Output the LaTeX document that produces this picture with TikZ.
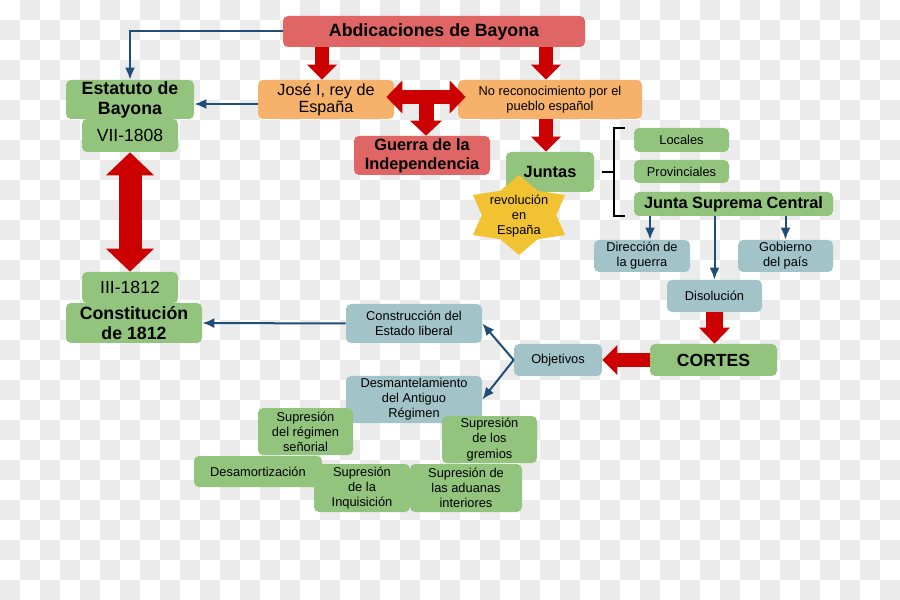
\documentclass[tikz,border=0pt]{standalone}
\usepackage{fontspec}
\setmainfont{Liberation Sans}
\usepackage{tikz}
\usetikzlibrary{arrows.meta, calc}

\definecolor{boxred}{HTML}{E06666}
\definecolor{boxorange}{HTML}{F6B26B}
\definecolor{boxgreen}{HTML}{93C47D}
\definecolor{boxblue}{HTML}{A2C4C9}
\definecolor{staryellow}{HTML}{F1C232}
\definecolor{arrowred}{HTML}{CC0000}
\definecolor{edgeblue}{HTML}{1F4E79}
\definecolor{chkgray}{RGB}{235,235,235}

\begin{document}
\begin{tikzpicture}[x=0.2mm, y=-0.2mm]
        \tikzset{box/.style = {shape=rectangle, rounded corners=1mm, inner sep=0pt, align=center, text=black}}
        \tikzset{sz/.style 2 args = {minimum width=#1*0.2mm, minimum height=#2*0.2mm}}
        \tikzset{bigtxt/.style = {font=\fontsize{9.3}{11}\selectfont\bfseries}}
        \tikzset{hugetxt/.style = {font=\fontsize{10.1}{11.4}\selectfont\bfseries}}
        \tikzset{midtxt/.style = {font=\fontsize{9.2}{9.8}\selectfont}}
        \tikzset{smalltxt/.style = {font=\fontsize{7.3}{8.6}\selectfont}}
        \tikzset{edge/.style = {draw=edgeblue, line width=0.4mm, -{Latex[length=2.4mm, width=2mm]}}}
        \tikzset{fat/.style = {draw=arrowred, line width=2.8mm, >={Triangle[width=6mm, length=3mm, line width=0pt]}}}
        \tikzset{brace/.style = {draw=black, line width=0.45mm}}
        \useasboundingbox (0,0) rectangle (900,600);

        % checkerboard background
        \fill[white] (0,0) rectangle (900,600);
        \foreach \i in {1,3,...,43}
          \foreach \j in {0,2,...,28}
            \fill[chkgray] (\i*20,\j*20) rectangle ++(20,20);
        \foreach \i in {0,2,...,44}
          \foreach \j in {1,3,...,29}
            \fill[chkgray] (\i*20,\j*20) rectangle ++(20,20);

        \node[box, fill=boxred, sz={302}{31}, hugetxt] (1) at (434,31.5) {Abdicaciones de Bayona};
        \node[box, fill=boxorange, sz={136}{39}, midtxt] (2) at (326,99.5) {José I, rey de\\España};
        \node[box, fill=boxorange, sz={184}{39}, smalltxt] (3) at (550,99.5) {No reconocimiento por el\\pueblo español};
        \node[box, fill=boxred, sz={136}{39}, bigtxt] (4) at (422,155.5) {Guerra de la\\Independencia};
        \node[box, fill=boxgreen, sz={128}{39}, hugetxt] (5) at (130,99.5) {Estatuto de\\Bayona};
        \node[box, fill=boxgreen, sz={96}{33}, midtxt, font=\fontsize{10}{11}\selectfont] (6) at (130,135.5) {VII-1808};
        \node[box, fill=boxgreen, sz={96}{31}, midtxt, font=\fontsize{10}{11}\selectfont] (7) at (130,287.5) {III-1812};
        \node[box, fill=boxgreen, sz={136}{40}, hugetxt] (8) at (134,323) {Constitución\\de 1812};
        \node[box, fill=boxgreen, sz={88}{40}, bigtxt] (9) at (550,172) {Juntas};

        % star
        \begin{scope}[shift={(519,215)}, xscale=1.33]
          \fill[staryellow] (90:40) -- (60:28) -- (30:40) -- (0:28) -- (-30:40) -- (-60:28)
            -- (-90:40) -- (-120:28) -- (-150:40) -- (180:28) -- (150:40) -- (120:28) -- cycle;
        \end{scope}
        \node[smalltxt, align=center, inner sep=0pt] (10) at (519,216) {revolución\\en\\España};

        \node[box, fill=boxgreen, sz={95}{24}, smalltxt] (11) at (681.5,140) {Locales};
        \node[box, fill=boxgreen, sz={95}{23}, smalltxt] (12) at (681.5,171.5) {Provinciales};
        \node[box, fill=boxgreen, sz={199}{24}, bigtxt] (13) at (733.5,204) {Junta Suprema Central};
        \node[box, fill=boxblue, sz={96}{32}, smalltxt] (14) at (642,256) {Dirección de\\la guerra};
        \node[box, fill=boxblue, sz={95}{32}, smalltxt] (15) at (785.5,256) {Gobierno\\del país};
        \node[box, fill=boxblue, sz={95}{32}, smalltxt] (16) at (714.5,296) {Disolución};
        \node[box, fill=boxgreen, sz={127}{32}, font=\fontsize{10}{12}\selectfont\bfseries] (17) at (713.5,360) {CORTES};
        \node[box, fill=boxblue, sz={88}{32}, smalltxt] (18) at (558,360) {Objetivos};
        \node[box, fill=boxblue, sz={136}{39}, smalltxt] (19) at (414,323.5) {Construcción del\\Estado liberal};
        \node[box, fill=boxblue, sz={136}{47}, smalltxt] (20) at (414,399.5) {Desmantelamiento\\del Antiguo\\Régimen};
        \node[box, fill=boxgreen, sz={95}{47}, smalltxt] (21) at (305.5,431.5) {Supresión\\del régimen\\señorial};
        \node[box, fill=boxgreen, sz={95}{47}, smalltxt] (22) at (489.5,439.5) {Supresión\\de los\\gremios};
        \node[box, fill=boxgreen, sz={128}{31}, smalltxt] (23) at (258,471.5) {Desamortización};
        \node[box, fill=boxgreen, sz={96}{48}, smalltxt] (24) at (362,488) {Supresión\\de la\\Inquisición};
        \node[box, fill=boxgreen, sz={112}{48}, smalltxt] (25) at (466,488) {Supresión de\\las aduanas\\interiores};

        \draw[edge] (1.west) -| (5.north);
        \draw[edge] ([yshift=-0.9mm]2.west) -- ([yshift=-0.9mm]5.east);
        \draw[edge] (19.west) -- (8.east);
        \draw[edge] ([xshift=1.6mm]14.north |- 13.south) -- ([xshift=1.6mm]14.north);
        \draw[edge] (15.north |- 13.south) -- (15.north);
        \draw[edge] (16.north |- 13.south) -- (16.north);
        \draw[edge] (18.west) -- (19.east);
        \draw[edge] (18.west) -- (20.east);

        \draw[brace] ([xshift=-1.8mm]11.north west) -- ++(-11,0) |- ([xshift=-1.8mm]13.south west);
        \draw[brace] ([xshift=1.6mm]9.east) -- ++(12,0);

        \draw[fat, ->] ([xshift=-0.8mm]2.north |- 1.south) -- ([xshift=-0.8mm]2.north);
        \draw[fat, ->] ([xshift=-0.8mm]3.north |- 1.south) -- ([xshift=-0.8mm]3.north);
        \draw[fat, ->] ([xshift=-0.8mm]9.north |- 3.south) -- ([xshift=-0.8mm]9.north);
        \coordinate (t) at ($(2.east)!0.5!(3.west) + (0,-2.5)$);
        \draw[fat, >={Triangle[width=6.6mm, length=3.2mm, line width=0pt]}, <->] ([xshift=-1.6mm]2.east |- t) -- ([xshift=1.6mm]3.west |- t);
        \draw[fat, line width=3mm, >={Triangle[width=6.4mm, length=3mm, line width=0pt]}, ->] (t) -- (t |- 4.north);
        \draw[fat, line width=4.6mm, >={Triangle[width=9.6mm, length=4.6mm, line width=0pt]}, <->] (6.south) -- (7.north);
        \draw[fat, line width=3.4mm, >={Triangle[width=6.2mm, length=3.2mm, line width=0pt]}, ->] (16.south) -- (16.south |- 17.north);
        \draw[fat, ->] (17.west) -- (18.east);
      \end{tikzpicture}
\end{document}
